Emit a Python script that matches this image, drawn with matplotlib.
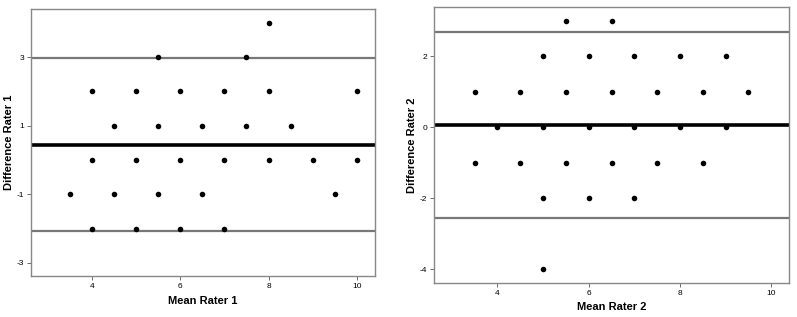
import numpy as np
import matplotlib.pyplot as plt

plt.rcParams["font.family"] = ["Liberation Sans", "DejaVu Sans"]
plt.rcParams["axes.unicode_minus"] = False

# Bland-Altman data, rater 1
mean_r1 = [8,
           5.5, 7.5,
           4, 5, 6, 7, 8, 10,
           4.5, 5.5, 6.5, 7.5, 8.5,
           4, 5, 6, 7, 8, 9, 10,
           3.5, 4.5, 5.5, 6.5, 9.5,
           4, 5, 6, 7]
diff_r1 = [4,
           3, 3,
           2, 2, 2, 2, 2, 2,
           1, 1, 1, 1, 1,
           0, 0, 0, 0, 0, 0, 0,
           -1, -1, -1, -1, -1,
           -2, -2, -2, -2]
lines_r1 = [2.96, 0.43, -2.08]  # upper LoA, mean, lower LoA

# rater 2
mean_r2 = [5.5, 6.5,
           5, 6, 7, 8, 9,
           3.5, 4.5, 5.5, 6.5, 7.5, 8.5, 9.5,
           4, 5, 6, 7, 8, 9,
           3.5, 4.5, 5.5, 6.5, 7.5, 8.5,
           5, 6, 7,
           5]
diff_r2 = [3, 3,
           2, 2, 2, 2, 2,
           1, 1, 1, 1, 1, 1, 1,
           0, 0, 0, 0, 0, 0,
           -1, -1, -1, -1, -1, -1,
           -2, -2, -2,
           -4]
lines_r2 = [2.69, 0.06, -2.57]

fig = plt.figure(figsize=(7.97, 3.17), dpi=100)
W, H = 797, 317


def add_ax(x0, y0, x1, y1):
    return fig.add_axes([x0 / W, 1 - y1 / H, (x1 - x0) / W, (y1 - y0) / H])


def draw(ax, xs, ys, lines, xlabel, ylabel, xlim, ylim, yticks):
    ax.axhline(lines[0], color="#777777", lw=1.6, zorder=1)
    ax.axhline(lines[1], color="black", lw=2.6, zorder=1)
    ax.axhline(lines[2], color="#777777", lw=1.6, zorder=1)
    ax.scatter(xs, ys, s=16, color="black", zorder=3, linewidths=0)
    ax.set_xlim(*xlim)
    ax.set_ylim(*ylim)
    ax.set_xticks([4, 6, 8, 10])
    ax.set_yticks(yticks)
    ax.tick_params(labelsize=6, length=3, width=0.6, color="#555555", pad=2)
    for sp in ax.spines.values():
        sp.set_color("#888888")
        sp.set_linewidth(1.0)
    ax.set_xlabel(xlabel, fontsize=8, fontweight="bold", labelpad=4)
    ax.set_ylabel(ylabel, fontsize=8, fontweight="bold", labelpad=2)


ax1 = add_ax(31, 9, 375, 276)
draw(ax1, mean_r1, diff_r1, lines_r1, "Mean Rater 1", "Difference Rater 1",
     (2.62, 10.41), (-3.38, 4.40), [-3, -1, 1, 3])

ax2 = add_ax(434, 7, 789, 283)
draw(ax2, mean_r2, diff_r2, lines_r2, "Mean Rater 2", "Difference Rater 2",
     (2.61, 10.39), (-4.39, 3.39), [-4, -2, 0, 2])

fig.savefig("out.png", dpi=100)
